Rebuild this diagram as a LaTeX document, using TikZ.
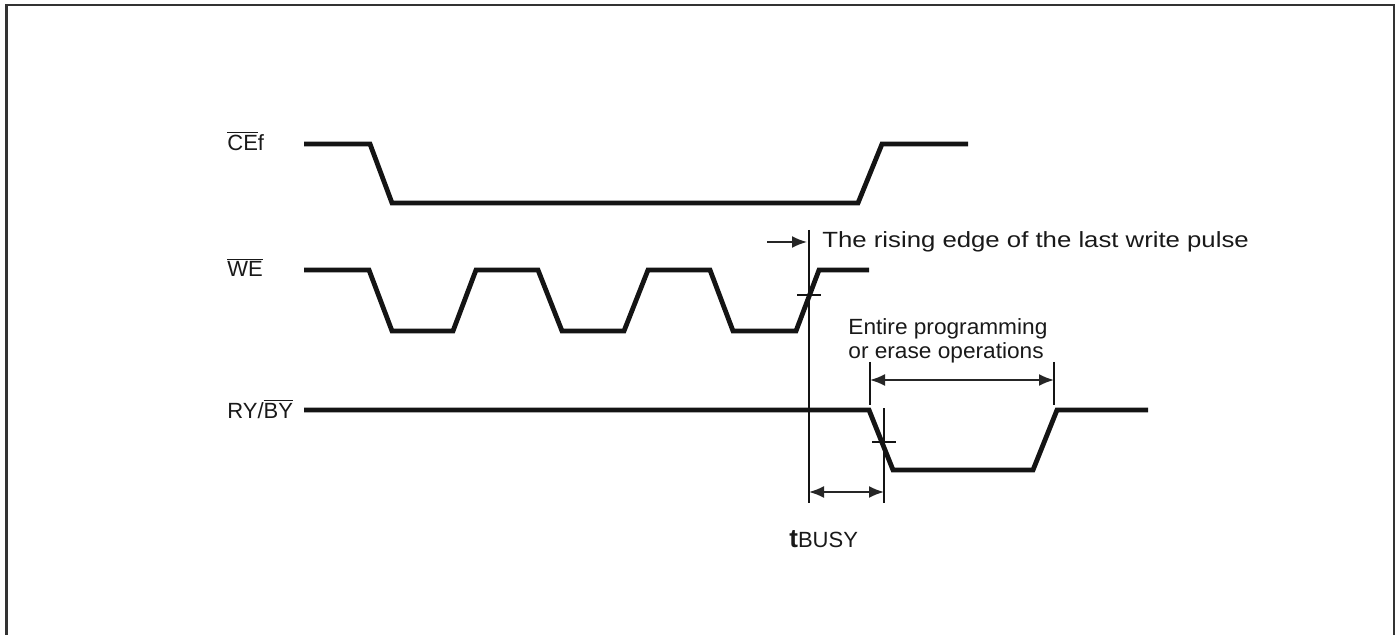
\documentclass[tikz,border=0pt]{standalone}
\usepackage{fontspec}
\setmainfont{Liberation Sans}
\usetikzlibrary{arrows.meta}
\newcommand{\ovl}[1]{$\overline{\mbox{#1}}$}
\begin{document}
\begin{tikzpicture}[x=0.5pt,y=-0.5pt,
  wave/.style={line width=2.4pt,line join=miter,draw=black!92},
  guide/.style={line width=1.4pt,draw=black!92},
  dim/.style={line width=0.9pt,draw=black!85,{Latex[length=7.5pt,width=6pt]}-{Latex[length=7.5pt,width=6pt]}},
  lbl/.style={font=\fontsize{11}{13}\selectfont,text=black!90,inner sep=0pt,anchor=base west}]
\useasboundingbox (0,0) rectangle (1400,635);
% frame (open at the bottom)
\draw[line width=1.3pt,draw=black!80] (6.5,635) -- (6.5,5) -- (1394,5) -- (1394,635);
% signal labels
\node[lbl] (ce) at (227,151) {\ovl{CE}f};
\node[lbl] (we) at (227,277) {\ovl{WE}};
\node[lbl] (ry) at (227,418) {RY/\ovl{BY}};
% CEf waveform
\draw[wave] (304,144) -- (370,144) -- (392,203) -- (858,203) -- (882,144) -- (968,144);
% WE waveform
\draw[wave] (304,270) -- (369,270) -- (392,331) -- (453,331) -- (476,270) -- (538,270)
  -- (562,331) -- (624,331) -- (648,270) -- (710,270) -- (733,331) -- (796,331)
  -- (819,270) -- (869,270);
% RY/BY waveform
\draw[wave] (304,410) -- (869,410) -- (893,470) -- (1033,470) -- (1057,410) -- (1148,410);
% guide lines
\coordinate (v1t) at (809,230);
\coordinate (v1b) at (809,503);
\coordinate (v2t) at (884,408);
\coordinate (v2b) at (884,503);
\draw[guide] (v1t) -- (v1b);
\draw[guide] (v2t) -- (v2b);
% ticks at mid-transitions
\draw[guide] (797,295) -- (821,295);
\draw[guide] (872,442) -- (896,442);
% last write pulse pointer
\coordinate (pa) at (767,242);
\coordinate (pb) at (807,242);
\draw[line width=0.9pt,draw=black!85,-{Latex[length=7.5pt,width=6pt]}] (pa) -- (pb);
\node[lbl] (rise) at (822,248) {\scalebox{1.17}[1]{The rising edge of the last write pulse}};
% entire programming span
\coordinate (e1t) at (870,362);
\coordinate (e1b) at (870,405);
\coordinate (e2t) at (1054,362);
\coordinate (e2b) at (1054,405);
\draw[guide] (e1t) -- (e1b);
\draw[guide] (e2t) -- (e2b);
\draw[dim] (870,380) -- (1054,380);
\node[lbl] (ent1) at (848,335) {\scalebox{1.03}[1]{Entire programming}};
\node[lbl] (ent2) at (848,359) {\scalebox{1.03}[1]{or erase operations}};
% tBUSY span
\draw[dim] (809,492) -- (884,492);
\node[lbl] (tb) at (789,547) {{\fontsize{13}{15}\selectfont\bfseries t}BUSY};
\end{tikzpicture}
\end{document}
